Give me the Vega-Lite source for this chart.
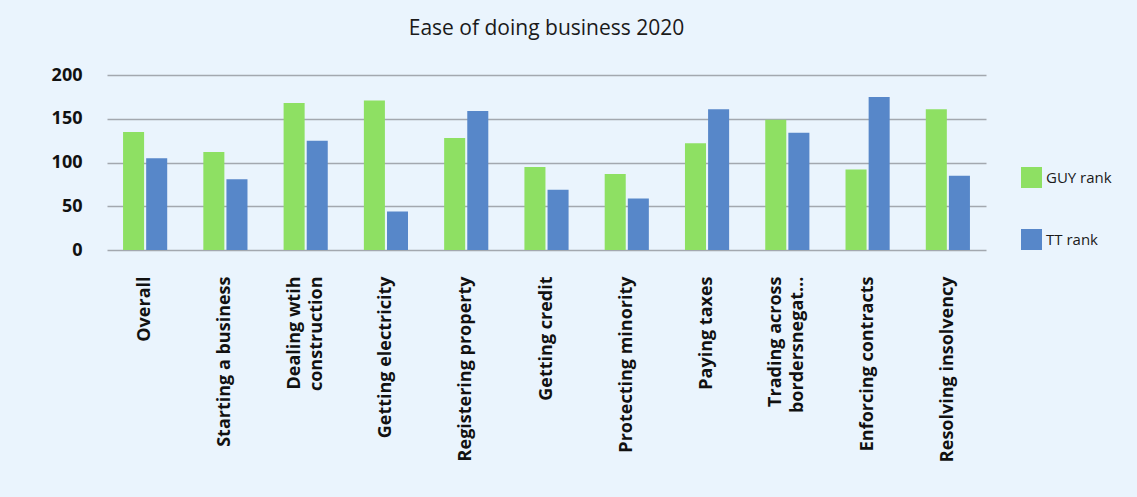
{
  "$schema": "https://vega.github.io/schema/vega-lite/v6.json",
  "width": 879,
  "height": 175,
  "autosize": {"type": "none"},
  "padding": {"left": 107, "top": 75, "right": 151, "bottom": 247},
  "background": "#EAF4FD",
  "title": {
    "text": "Ease of doing business 2020",
    "font": "Open Sans",
    "fontSize": 21,
    "fontWeight": "normal",
    "color": "#1a1a1a",
    "anchor": "middle",
    "offset": 27
  },
  "data": {
    "values": [
      {"category": "Overall", "series": "GUY rank", "rank": 135},
      {"category": "Overall", "series": "TT rank", "rank": 105},
      {"category": "Starting a business", "series": "GUY rank", "rank": 112},
      {"category": "Starting a business", "series": "TT rank", "rank": 81},
      {"category": "Dealing wtih|construction", "series": "GUY rank", "rank": 168},
      {"category": "Dealing wtih|construction", "series": "TT rank", "rank": 125},
      {"category": "Getting electricity", "series": "GUY rank", "rank": 171},
      {"category": "Getting electricity", "series": "TT rank", "rank": 44},
      {"category": "Registering property", "series": "GUY rank", "rank": 128},
      {"category": "Registering property", "series": "TT rank", "rank": 159},
      {"category": "Getting credit", "series": "GUY rank", "rank": 95},
      {"category": "Getting credit", "series": "TT rank", "rank": 69},
      {"category": "Protecting minority", "series": "GUY rank", "rank": 87},
      {"category": "Protecting minority", "series": "TT rank", "rank": 59},
      {"category": "Paying taxes", "series": "GUY rank", "rank": 122},
      {"category": "Paying taxes", "series": "TT rank", "rank": 161},
      {"category": "Trading across|bordersnegat…", "series": "GUY rank", "rank": 149},
      {"category": "Trading across|bordersnegat…", "series": "TT rank", "rank": 134},
      {"category": "Enforcing contracts", "series": "GUY rank", "rank": 92},
      {"category": "Enforcing contracts", "series": "TT rank", "rank": 175},
      {"category": "Resolving insolvency", "series": "GUY rank", "rank": 161},
      {"category": "Resolving insolvency", "series": "TT rank", "rank": 85}
    ]
  },
  "mark": {"type": "bar"},
  "encoding": {
    "x": {
      "field": "category",
      "type": "nominal",
      "sort": null,
      "title": null,
      "scale": {"paddingInner": 0.45, "paddingOuter": 0.2},
      "axis": {
        "labelAngle": -90,
        "labelAlign": "right",
        "labelBaseline": "middle",
        "labelExpr": "split(datum.label, '|')",
        "labelOffset": {"condition": {"test": "indexof(datum.value, '|') >= 0", "value": -11}, "value": 0},
        "labelFont": "Open Sans",
        "labelFontSize": 18,
        "labelFontWeight": "bold",
        "labelColor": "#111111",
        "labelPadding": 26,
        "labelLimit": 0,
        "labelLineHeight": 22,
        "ticks": false,
        "domain": false
      }
    },
    "xOffset": {
      "field": "series",
      "type": "nominal",
      "scale": {"paddingInner": 0.09}
    },
    "y": {
      "field": "rank",
      "type": "quantitative",
      "title": null,
      "scale": {"domain": [0, 200]},
      "axis": {
        "values": [0, 50, 100, 150, 200],
        "labelFont": "Open Sans",
        "labelFontSize": 18,
        "labelFontWeight": "bold",
        "labelColor": "#111111",
        "labelPadding": 25,
        "ticks": false,
        "domain": false,
        "gridColor": "#A3A8AF",
        "gridWidth": 1.5
      }
    },
    "color": {
      "field": "series",
      "type": "nominal",
      "title": null,
      "scale": {"domain": ["GUY rank", "TT rank"], "range": ["#8EE063", "#5787C9"]},
      "legend": {
        "orient": "none",
        "legendX": 914,
        "legendY": 92,
        "symbolType": "square",
        "symbolSize": 441,
        "symbolStrokeWidth": 0,
        "rowPadding": 41,
        "labelFont": "Open Sans",
        "labelFontSize": 15,
        "labelColor": "#1a1a1a",
        "labelOffset": 4
      }
    }
  },
  "config": {
    "view": {"stroke": null},
    "axis": {"gridOpacity": 1}
  }
}
